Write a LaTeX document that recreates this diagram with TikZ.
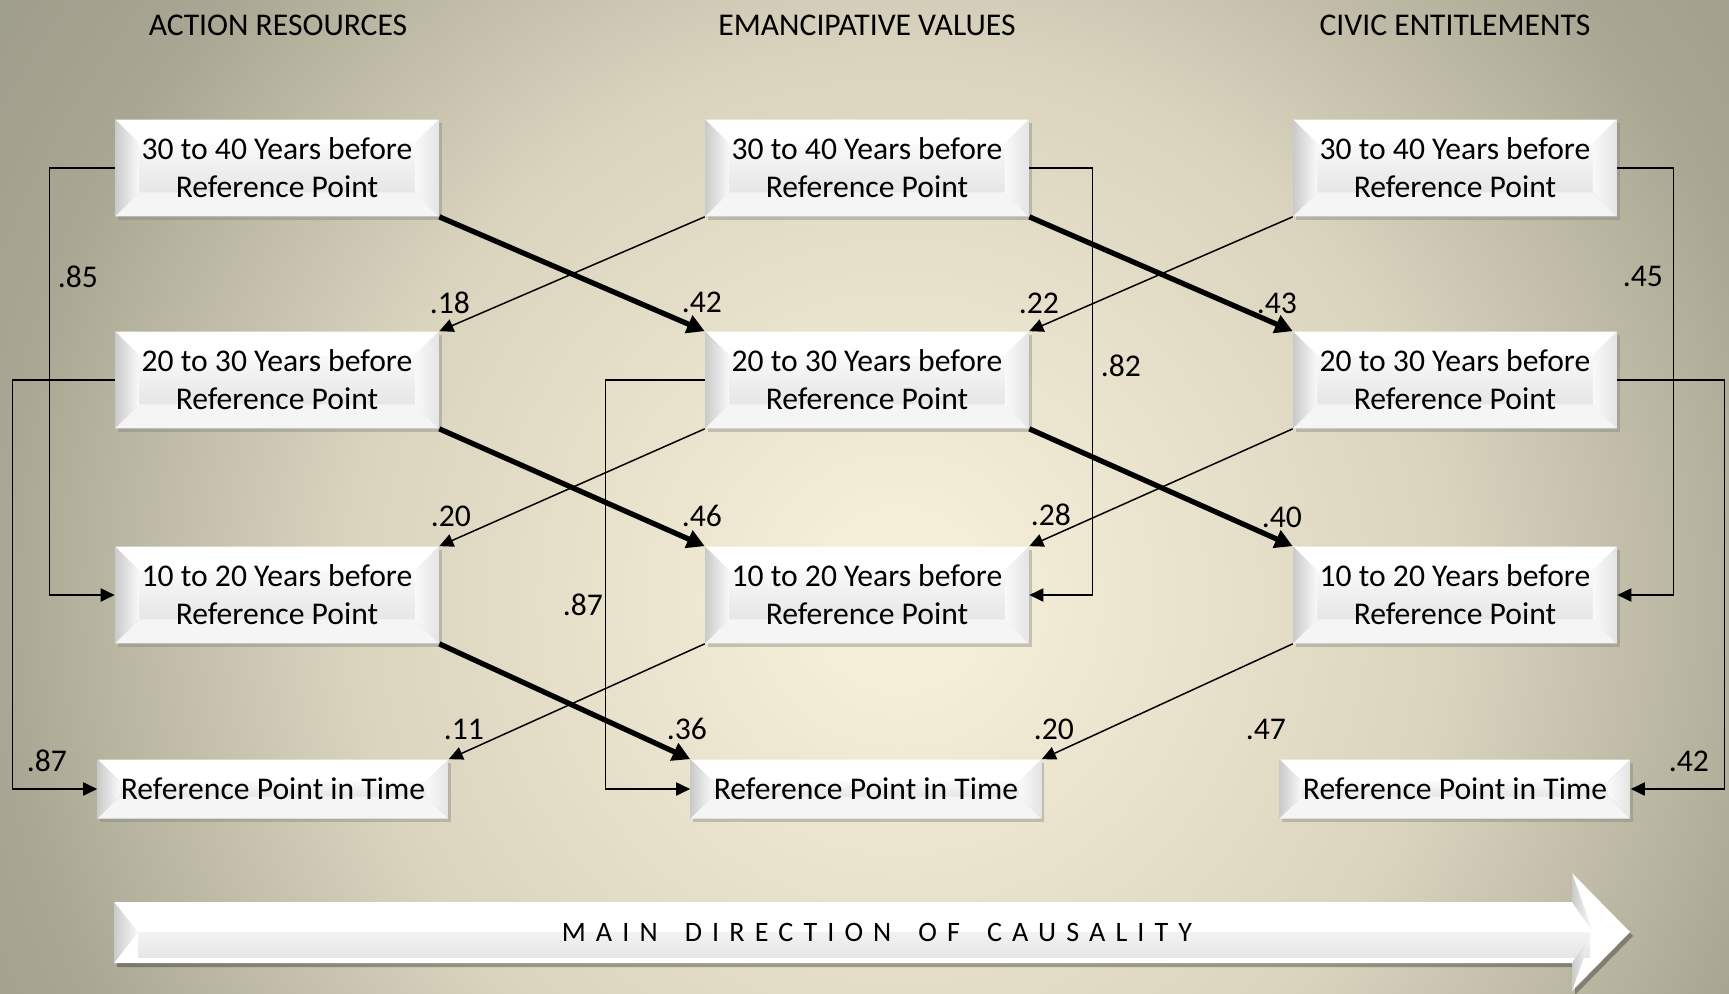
\documentclass[tikz,border=0pt]{standalone}
\usepackage{fontspec}
\setmainfont{Carlito}
\newfontfamily\spacedfont[LetterSpace=36]{Carlito}
\usepackage{tikz}
\usetikzlibrary{arrows.meta,calc,shadows}

\definecolor{bgin}{HTML}{F4EDD7}
\definecolor{bgmid}{HTML}{DAD4BF}
\definecolor{bgout}{HTML}{A9A793}
\definecolor{bgcorner}{HTML}{9F9D8B}
\definecolor{facetop}{HTML}{F9F9F9}
\definecolor{facebot}{HTML}{E6E6E6}
\definecolor{bevleft}{HTML}{CACACA}
\definecolor{bevright}{HTML}{E4E4E4}
\definecolor{bevbot}{HTML}{F5F5F5}

\pgfdeclareradialshading{bgglow}{\pgfpoint{0bp}{0bp}}{color(0bp)=(bgin); color(2bp)=(bgin); color(12.5bp)=(bgmid); color(20.5bp)=(bgout); color(24.6bp)=(bgcorner); color(50bp)=(bgcorner)}

\newcommand{\wgap}{\hspace{6pt} }

\tikzset{
  bevel/.style={path picture={
      \path (path picture bounding box.north west) coordinate (bw)
            (path picture bounding box.south east) coordinate (be);
      \shade[top color=facetop, bottom color=facebot] ($(bw)+(#1,#1)$) rectangle ($(be)+(-#1,-#1)$);
      \fill[white] (bw) -- (bw -| be) -- ($(bw -| be)+(-#1,#1)$) -- ($(bw)+(#1,#1)$) -- cycle;
      \shade[left color=bevleft, right color=facetop] (bw) -- ($(bw)+(#1,#1)$) -- ($(bw |- be)+(#1,-#1)$) -- (bw |- be) -- cycle;
      \fill[bevbot] (bw |- be) -- ($(bw |- be)+(#1,-#1)$) -- ($(be)+(-#1,-#1)$) -- (be) -- cycle;
      \shade[left color=facetop, right color=bevright] (bw -| be) -- (be) -- ($(be)+(-#1,-#1)$) -- ($(bw -| be)+(-#1,#1)$) -- cycle;
  }},
  box/.style={bevel=24, minimum width=6.48cm, minimum height=1.94cm, align=center, inner sep=0pt,
    font=\fontsize{18}{21.5}\selectfont, drop shadow={shadow xshift=1.5pt, shadow yshift=-1.8pt, opacity=.4}},
  refbox/.style={bevel=22, minimum width=7.02cm, minimum height=1.18cm, align=center, inner sep=0pt,
    font=\fontsize{18}{21.5}\selectfont, drop shadow={shadow xshift=1.5pt, shadow yshift=-1.8pt, opacity=.4}},
  head/.style={font=\fontsize{18}{21.5}\selectfont, inner sep=0pt},
  num/.style={font=\fontsize{18}{21.5}\selectfont, inner sep=0pt},
  thinarrow/.style={line width=0.85pt, -{Triangle[length=8pt,width=7.5pt]}},
  thickarrow/.style={line width=3pt, -{Triangle[length=10pt,width=10.5pt]}},
}

\begin{document}
\begin{tikzpicture}[x=0.02cm, y=-0.02cm]
    \useasboundingbox (0,0) rectangle (1729,994);
    \begin{scope}
        \clip (0,0) rectangle (1729,994);
        \shade[shading=bgglow] (-200,-500) rectangle (2000,1700);
    \end{scope}

    \node[head] (har) at (278,25) {ACTION RESOURCES};
    \node[head] (hev) at (867,25) {EMANCIPATIVE VALUES};
    \node[head] (hce) at (1455,25) {CIVIC ENTITLEMENTS};

    \node[box] (ar1) at (277,168) {30 to 40 Years before\\Reference Point};
    \node[box] (ar2) at (277,380) {20 to 30 Years before\\Reference Point};
    \node[box] (ar3) at (277,595) {10 to 20 Years before\\Reference Point};
    \node[refbox] (ar4) at (273,789) {Reference Point in Time};
    \node[box] (ev1) at (867,168) {30 to 40 Years before\\Reference Point};
    \node[box] (ev2) at (867,380) {20 to 30 Years before\\Reference Point};
    \node[box] (ev3) at (867,595) {10 to 20 Years before\\Reference Point};
    \node[refbox] (ev4) at (866,789) {Reference Point in Time};
    \node[box] (ce1) at (1455,168) {30 to 40 Years before\\Reference Point};
    \node[box] (ce2) at (1455,380) {20 to 30 Years before\\Reference Point};
    \node[box] (ce3) at (1455,595) {10 to 20 Years before\\Reference Point};
    \node[refbox] (ce4) at (1455,789) {Reference Point in Time};

    \draw[thinarrow] (ar1.west) -- ++(-65,0) |- (ar3.west);
    \draw[thinarrow] (ar2.west) -- ++(-102,0) |- (ar4.west);
    \draw[thinarrow] (ev1.east) -- ++(63,0) |- (ev3.east);
    \draw[thinarrow] (ev2.west) -- ++(-99,0) |- (ev4.west);
    \draw[thinarrow] (ce1.east) -- ++(56,0) |- (ce3.east);
    \draw[thinarrow] (ce2.east) -- ++(107,0) |- (ce4.east);

    \draw[thinarrow] (ev1.south west) -- (ar2.north east);
    \draw[thinarrow] (ev2.south west) -- (ar3.north east);
    \draw[thinarrow] (ev3.south west) -- (ar4.north east);
    \draw[thinarrow] (ce1.south west) -- (ev2.north east);
    \draw[thinarrow] (ce2.south west) -- (ev3.north east);
    \draw[thinarrow] (ce3.south west) -- (ev4.north east);

    \draw[thickarrow] (ar1.south east) -- (ev2.north west);
    \draw[thickarrow] (ar2.south east) -- (ev3.north west);
    \draw[thickarrow] (ar3.south east) -- (ev4.north west);
    \draw[thickarrow] (ev1.south east) -- (ce2.north west);
    \draw[thickarrow] (ev2.south east) -- (ce3.north west);

    \node[num] (w85) at (78,277) {.85};
    \node[num] (w87a) at (47,761) {.87};
    \node[num] (w18) at (450,303) {.18};
    \node[num] (w42a) at (702,302) {.42};
    \node[num] (w20a) at (451,516) {.20};
    \node[num] (w46) at (702,516) {.46};
    \node[num] (w11) at (464,729) {.11};
    \node[num] (w36) at (687,729) {.36};
    \node[num] (w87b) at (583,605) {.87};
    \node[num] (w22) at (1039,303) {.22};
    \node[num] (w43) at (1277,303) {.43};
    \node[num] (w82) at (1121,366) {.82};
    \node[num] (w28) at (1051,515) {.28};
    \node[num] (w40) at (1282,517) {.40};
    \node[num] (w20b) at (1054,729) {.20};
    \node[num] (w47) at (1266,729) {.47};
    \node[num] (w45) at (1643,276) {.45};
    \node[num] (w42b) at (1689,761) {.42};

    \fill[black, opacity=.3] (117,906) -- (1575,906) -- (1575,877) -- (1633,936) -- (1575,995) -- (1575,967) -- (117,967) -- cycle;
    \fill[white] (114,902) -- (1572,902) -- (1572,873) -- (1630,932) -- (1572,991) -- (1572,963) -- (114,963) -- cycle;
    \shade[top color=facebot!50!white, bottom color=facebot] (138,932) rectangle (1590,957);
    \shade[left color=bevleft, right color=facetop] (114,902) -- (138,932) -- (114,963) -- cycle;
    \shade[left color=bevleft, right color=white] (1572,873) -- (1593,932) -- (1572,902) -- cycle;
    \shade[left color=bevleft, right color=white] (1572,963) -- (1593,932) -- (1572,991) -- cycle;
    \node[inner sep=0pt, font=\spacedfont\fontsize{16}{18}\selectfont] (causal) at (877,932) {MAIN\wgap DIRECTION\wgap OF\wgap CAUSALITY};
\end{tikzpicture}
\end{document}
